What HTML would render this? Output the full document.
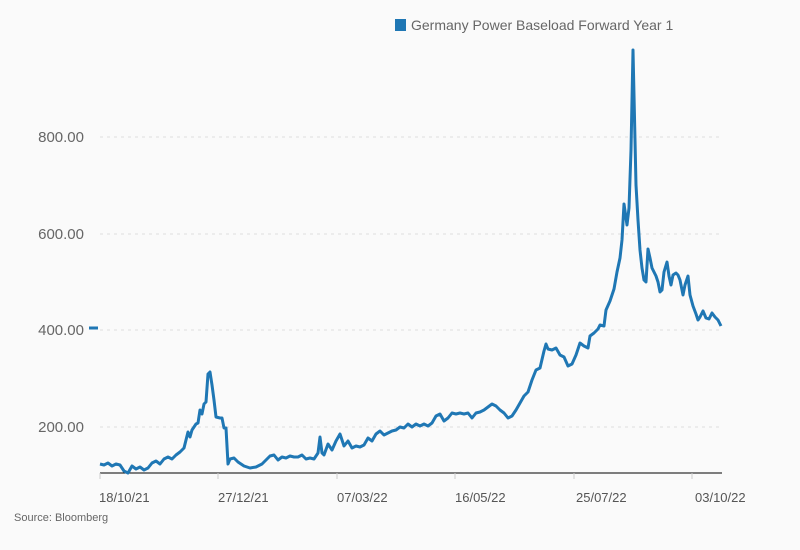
<!DOCTYPE html>
<html><head><meta charset="utf-8"><style>
html,body{margin:0;padding:0;background:#fafafa;}
svg{display:block;font-family:"Liberation Sans",sans-serif;}
</style></head><body>
<svg width="800" height="550" viewBox="0 0 800 550">
<rect width="800" height="550" fill="#fafafa"/>
<rect x="395" y="19" width="11" height="12" fill="#1f77b4"/>
<text x="411" y="30" font-size="14" fill="#666">Germany Power Baseload Forward Year 1</text>
<g stroke="#ddd" stroke-dasharray="3,4" stroke-width="1">
<line x1="100" x2="722" y1="137" y2="137"/>
<line x1="100" x2="722" y1="234" y2="234"/>
<line x1="100" x2="722" y1="330" y2="330"/>
<line x1="100" x2="722" y1="427" y2="427"/>
</g>
<g font-size="15" fill="#666" text-anchor="end">
<text x="84" y="142">800.00</text>
<text x="84" y="239">600.00</text>
<text x="84" y="335">400.00</text>
<text x="84" y="432">200.00</text>
</g>
<line x1="89" x2="98" y1="328" y2="328" stroke="#1f77b4" stroke-width="3"/>
<line x1="100" x2="722" y1="473" y2="473" stroke="#000" stroke-width="1"/>
<g stroke="#ccc"><line x1="100" x2="100" y1="473" y2="479"/><line x1="218" x2="218" y1="473" y2="479"/><line x1="337" x2="337" y1="473" y2="479"/><line x1="455" x2="455" y1="473" y2="479"/><line x1="574" x2="574" y1="473" y2="479"/><line x1="692" x2="692" y1="473" y2="479"/></g>
<g font-size="13" fill="#555">
<text x="99" y="502">18/10/21</text>
<text x="218" y="502">27/12/21</text>
<text x="337" y="502">07/03/22</text>
<text x="455" y="502">16/05/22</text>
<text x="576" y="502">25/07/22</text>
<text x="695" y="502">03/10/22</text>
</g>
<text x="14" y="521" font-size="11" fill="#666">Source: Bloomberg</text>
<polyline fill="none" stroke="#1f77b4" stroke-width="3" stroke-linejoin="round" points="100,464 104,465 108,463 112,466 116,464 120,465 124,471 128,473 132,466 136,469 140,467 144,470 148,468 152,463 156,461 160,464 164,459 168,457 172,459 176,455 180,452 184,448 186,440 188,432 190,437 192,430 196,424 198,423 200,410 202,414 204,404 206,402 208,374 210,372 212,385 214,400 216,417 220,418 222,418 224,428 226,428 228,464 230,459 234,458 238,462 244,466 250,468 256,467 262,464 266,460 270,456 274,455 278,460 282,457 286,458 290,456 294,457 298,457 302,455 306,459 310,458 314,459 318,453 320,437 322,453 324,455 328,444 332,450 336,441 340,434 344,446 348,441 352,448 356,446 360,447 364,445 368,438 372,441 376,434 380,431 384,435 388,433 392,431 396,430 400,427 404,428 408,424 412,427 416,424 420,426 424,424 428,426 432,423 436,416 440,414 444,421 448,418 452,413 456,414 460,413 464,414 468,413 472,418 476,413 480,412 484,410 488,407 492,404 496,406 500,410 504,413 508,418 512,416 516,410 520,403 524,396 528,392 532,380 536,370 540,368 544,351 546,344 548,349 552,350 556,348 560,355 564,357 568,366 572,364 576,355 580,343 584,346 588,348 590,336 594,333 598,329 600,325 604,326 606,310 610,301 614,289 617,272 620,258 622,240 624,204 627,225 629,208 631,150 633,50 636,185 638,220 640,250 642,268 644,280 646,282 648,249 650,258 652,268 654,272 656,276 658,282 660,292 662,290 664,272 667,262 669,276 671,285 673,275 676,273 678,275 680,280 683,295 685,285 688,276 690,295 693,306 696,314 698,320 700,317 703,311 706,318 709,319 712,313 715,317 718,320 721,326"/>
</svg>
</body></html>
